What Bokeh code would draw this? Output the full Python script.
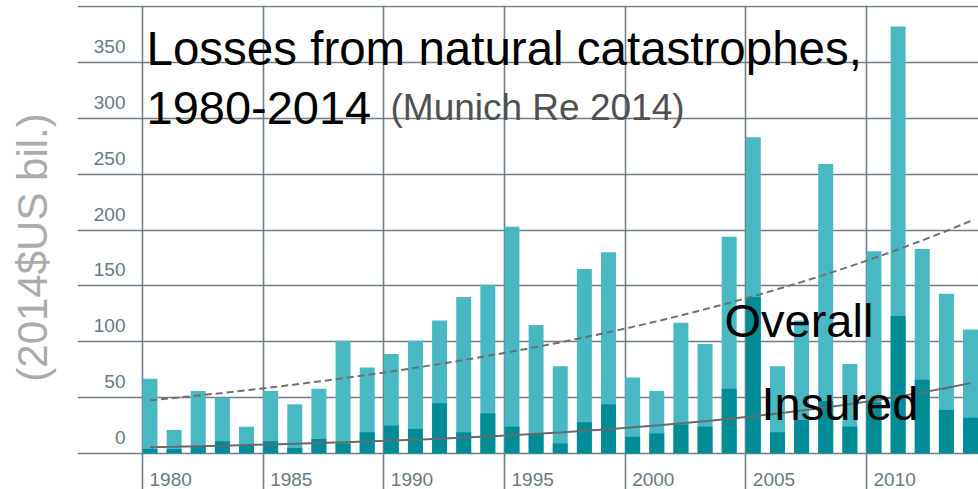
from bokeh.plotting import figure
from bokeh.models import Range1d, Grid, FixedTicker, LinearAxis, Label
from bokeh.core.properties import value
from bokeh.embed import file_html
from bokeh.resources import INLINE

# ---- data (2014 US$ bn) ----
years = list(range(1980, 2015))
overall = [67, 21, 56, 50, 24, 56, 44, 58, 101, 77,
           89, 101, 119, 140, 151, 203, 115, 78, 165, 180,
           68, 56, 117, 98, 194, 283, 78, 119, 259, 80,
           181, 382, 183, 143, 111]
insured = [4, 4, 7, 11, 7, 11, 5, 13, 9, 19,
           25, 22, 45, 19, 36, 24, 18, 9, 28, 44,
           15, 18, 26, 24, 58, 140, 19, 30, 47, 24,
           46, 123, 66, 39, 32]
overall_trend = [47.6, 49.7, 51.9, 54.2, 56.6, 59.1, 61.7, 64.5, 67.3, 70.3,
                 73.4, 76.7, 80.1, 83.6, 87.4, 91.2, 95.3, 99.5, 103.9, 108.5,
                 113.3, 118.3, 123.6, 129.1, 134.8, 140.7, 147.0, 153.5, 160.3, 167.4,
                 174.8, 182.6, 190.7, 199.1, 208.0]
insured_trend = [5.7, 6.1, 6.6, 7.0, 7.6, 8.1, 8.7, 9.3, 10.0, 10.8,
                 11.6, 12.4, 13.3, 14.3, 15.3, 16.4, 17.7, 18.9, 20.3, 21.8,
                 23.4, 25.1, 27.0, 28.9, 31.1, 33.3, 35.8, 38.4, 41.2, 44.2,
                 47.5, 50.9, 54.7, 58.7, 63.0]
y_ticks = [0, 50, 100, 150, 200, 250, 300, 350]
y_grid = [0, 50, 100, 150, 200, 250, 300, 350, 400]
x_ticks = [1980, 1985, 1990, 1995, 2000, 2005, 2010]

LIGHT = "#48b8c2"
DARK = "#008c96"
GRID = "#6f7e87"
TICK = "#687884"
FONT = "Liberation Sans"

p = figure(width=978, height=489, output_backend="svg", toolbar_location=None,
           x_range=Range1d(1977.307, 2014.641), y_range=Range1d(-32.2, 400.9),
           x_axis_location=None, y_axis_location=None,
           min_border_left=77, min_border_right=0, min_border_top=5, min_border_bottom=0)
p.outline_line_color = None
p.background_fill_color = "white"

# y-axis title only
ax = LinearAxis(ticker=FixedTicker(ticks=[]), axis_label="(2014$US bil.)",
                axis_line_color=None, major_tick_line_color=None, minor_tick_line_color=None,
                major_label_standoff=0, axis_label_standoff=22,
                axis_label_text_font=FONT, axis_label_text_font_size="42px",
                axis_label_text_font_style="normal", axis_label_text_color="#ababab")
p.add_layout(ax, "left")

p.add_layout(Grid(dimension=0, ticker=FixedTicker(ticks=x_ticks),
                  grid_line_color=GRID, grid_line_width=1.6))
p.add_layout(Grid(dimension=1, ticker=FixedTicker(ticks=y_grid),
                  grid_line_color=GRID, grid_line_width=1.6))

xc = [y + 0.31 for y in years]
p.vbar(x=xc, width=0.62, bottom=0, top=overall, fill_color=LIGHT, line_color=None)
p.vbar(x=xc, width=0.62, bottom=0, top=insured, fill_color=DARK, line_color=None)

p.line(x=xc, y=overall_trend, line_color="#707070", line_width=2, line_dash="7 4")
p.line(x=xc, y=insured_trend, line_color="#6a6a6a", line_width=2)

# tick labels
p.text(x=[1980] * len(y_ticks), y=y_ticks, text=[str(v) for v in y_ticks],
       x_offset=-17, y_offset=-16, text_align="right", text_baseline="middle",
       text_font=value(FONT), text_font_size="19px", text_color=TICK)
p.text(x=x_ticks, y=[0] * len(x_ticks), text=[str(v) for v in x_ticks],
       x_offset=7, y_offset=26, text_align="left", text_baseline="middle",
       text_font=value(FONT), text_font_size="19px", text_color=TICK)

def X(px):
    return 1980 + (px - 142) / 24.133

def Y(py):
    return (453 - py) / 1.1175

for txt, px, py, size, col in [
    ("Losses from natural catastrophes,", 146, 48, "47.5px", "black"),
    ("1980-2014", 146, 107, "47px", "black"),
    ("(Munich Re 2014)", 390, 107, "37px", "#505050"),
    ("Overall", 724, 320, "47px", "black"),
    ("Insured", 761, 403, "47px", "black"),
]:
    p.add_layout(Label(x=X(px), y=Y(py), text=txt, text_font=FONT, text_font_size=size,
                       text_color=col, text_baseline="alphabetic", text_align="left"))

open("out.html", "w").write(file_html(p, INLINE))
